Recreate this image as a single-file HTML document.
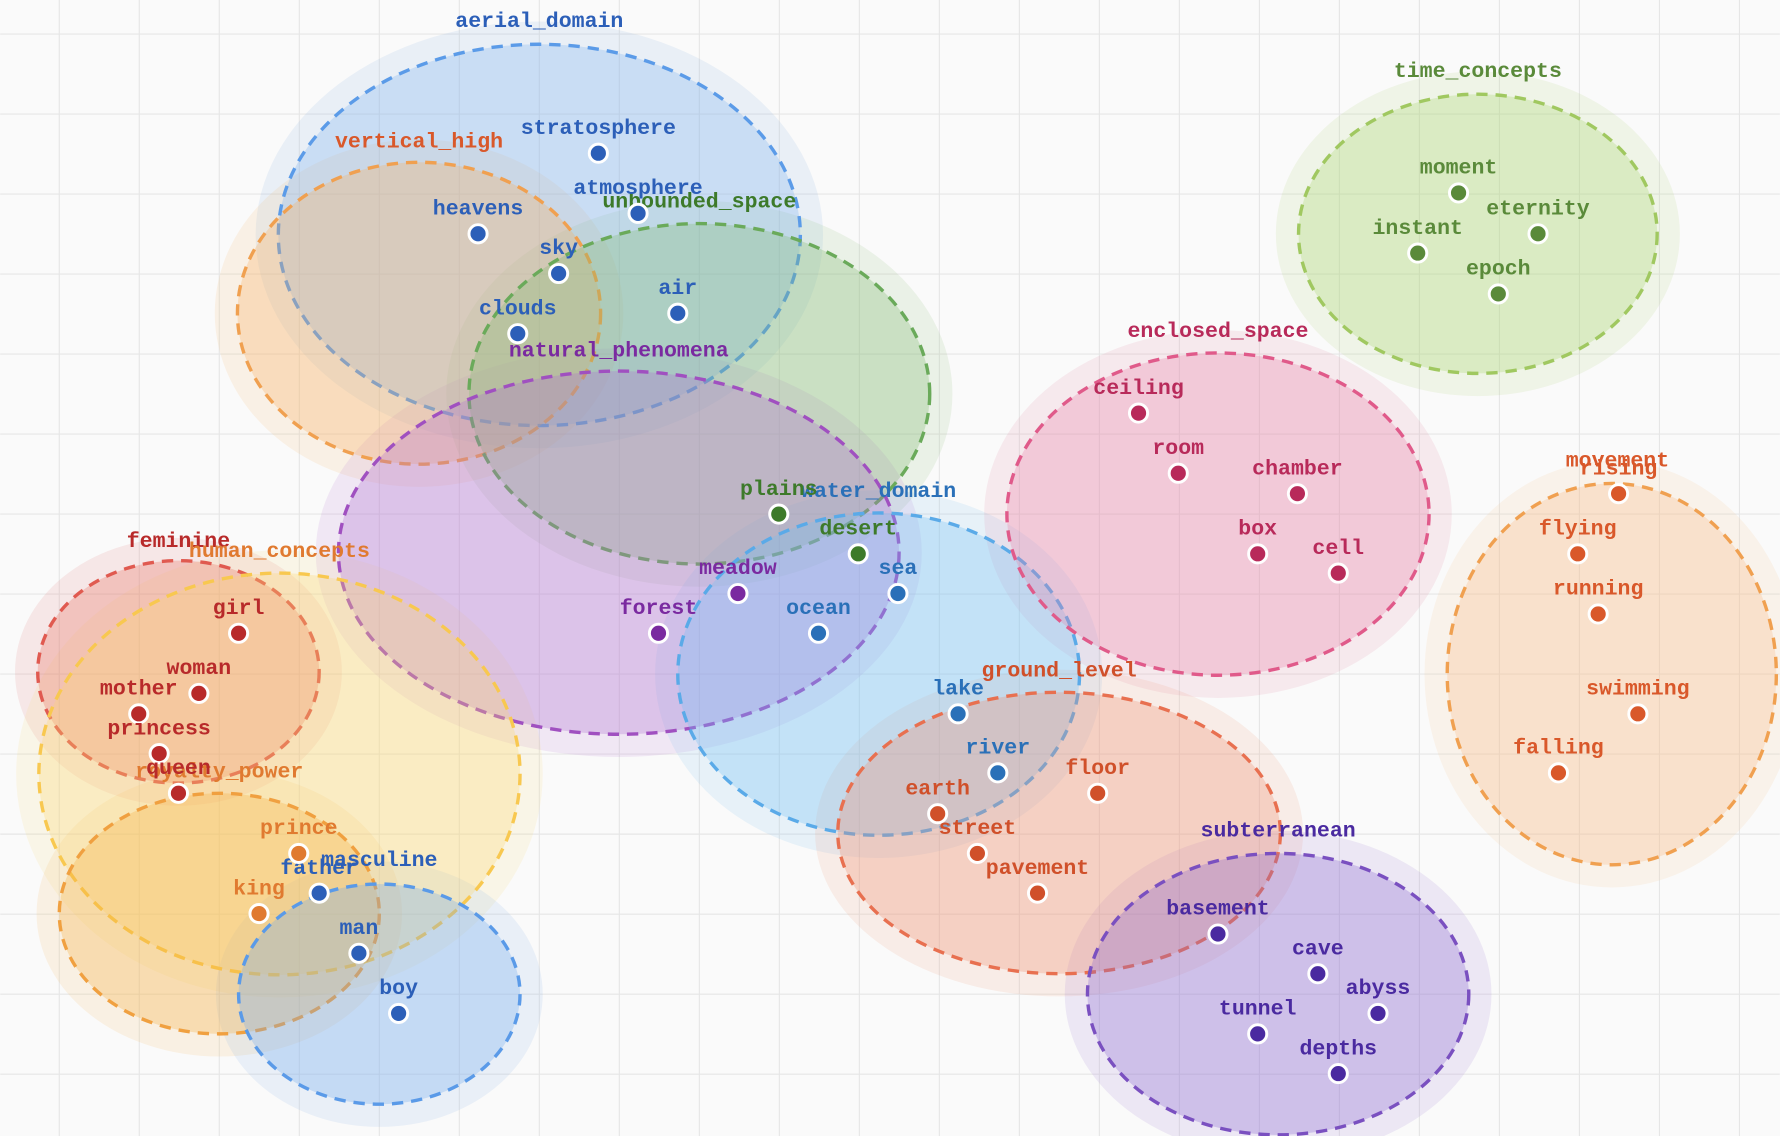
<!DOCTYPE html>
<html><head><meta charset="utf-8"><style>
html,body{margin:0;padding:0;background:#fafafa}
svg{display:block}
text{font-family:"Liberation Mono","DejaVu Sans Mono",monospace;font-weight:bold;font-size:19px;text-anchor:middle}
.d{stroke:#fff;stroke-width:2.6}
</style></head><body>
<svg width="1780" height="1136" viewBox="0 0 1568 1001" xmlns="http://www.w3.org/2000/svg">
<rect width="1568" height="1001" fill="#fafafa"/>
<g stroke="#e6e6e6" stroke-width="1">
<path d="M52 0V1001M122.5 0V1001M193 0V1001M263.5 0V1001M334 0V1001M404.5 0V1001M475 0V1001M545.5 0V1001M616 0V1001M686.5 0V1001M757 0V1001M827.5 0V1001M898 0V1001M968.5 0V1001M1039 0V1001M1109.5 0V1001M1180 0V1001M1250.5 0V1001M1321 0V1001M1391.5 0V1001M1462 0V1001M1532.5 0V1001"/>
<path d="M0 30H1568M0 100.5H1568M0 171H1568M0 241.5H1568M0 312H1568M0 382.5H1568M0 453H1568M0 523.5H1568M0 594H1568M0 664.5H1568M0 735H1568M0 805.5H1568M0 876H1568M0 946.5H1568"/>
</g>
<!-- halos -->
<g fill-opacity="0.13">
<ellipse cx="475" cy="207" rx="250" ry="188" fill="#7aa8e0"/>
<ellipse cx="369" cy="276" rx="180" ry="153" fill="#f5b060"/>
<ellipse cx="616" cy="347" rx="223" ry="170" fill="#80b870"/>
<ellipse cx="545" cy="487" rx="267" ry="180" fill="#b070d0"/>
<ellipse cx="774" cy="594" rx="197" ry="162" fill="#70b8f0"/>
<ellipse cx="1073" cy="453" rx="206" ry="162" fill="#e07a9a"/>
<ellipse cx="1302" cy="206" rx="178" ry="143" fill="#a8d070"/>
<ellipse cx="1420" cy="594" rx="165" ry="188" fill="#f5c080"/>
<ellipse cx="157" cy="592" rx="144" ry="118" fill="#e07070"/>
<ellipse cx="246" cy="682" rx="232" ry="197" fill="#fad870"/>
<ellipse cx="193" cy="805" rx="161" ry="126" fill="#f5b050"/>
<ellipse cx="334" cy="876" rx="144" ry="117" fill="#7aa8e8"/>
<ellipse cx="933" cy="734" rx="215" ry="144" fill="#f09070"/>
<ellipse cx="1126" cy="876" rx="188" ry="144" fill="#9070d0"/>
</g>
<g fill-opacity="0.3" stroke-width="3" stroke-dasharray="10 7">
<ellipse cx="475" cy="207" rx="230" ry="168" fill="#80b4ee" stroke="#5b9be8"/>
<ellipse cx="369" cy="276" rx="160" ry="133" fill="#f8b060" stroke="#f0a050"/>
<ellipse cx="616" cy="347" rx="203" ry="150" fill="#80b870" stroke="#6aaa5a"/>
<ellipse cx="545" cy="487" rx="247" ry="160" fill="#b070d0" stroke="#a050c0"/>
<ellipse cx="774" cy="594" rx="177" ry="142" fill="#70c0f5" stroke="#5aaae8"/>
<ellipse cx="1073" cy="453" rx="186" ry="142" fill="#e880a8" stroke="#e05a8a"/>
<ellipse cx="1302" cy="206" rx="158" ry="123" fill="#a8d870" stroke="#a0c860"/>
<ellipse cx="1420" cy="594" rx="145" ry="168" fill="#f8b888" stroke="#f0a050"/>
<ellipse cx="157" cy="592" rx="124" ry="98" fill="#e87060" stroke="#e05a50"/>
<ellipse cx="246" cy="682" rx="212" ry="177" fill="#fcd870" stroke="#f8c850"/>
<ellipse cx="193" cy="805" rx="141" ry="106" fill="#f5b040" stroke="#f0a040"/>
<ellipse cx="334" cy="876" rx="124" ry="97" fill="#70a8f0" stroke="#5a9ae8"/>
<ellipse cx="933" cy="734" rx="195" ry="124" fill="#f09070" stroke="#e87050"/>
<ellipse cx="1126" cy="876" rx="168" ry="124" fill="#8868d0" stroke="#7a50c0"/>
</g>
<!-- group labels -->
<text x="475" y="24" fill="#2c5fb8">aerial_domain</text>
<text x="369" y="130" fill="#d9582a">vertical_high</text>
<text x="616" y="183" fill="#3d7a2a">unbounded_space</text>
<text x="545" y="314" fill="#7a2aa0">natural_phenomena</text>
<text x="774" y="438" fill="#2a70b8">water_domain</text>
<text x="1073" y="297" fill="#b82a5a">enclosed_space</text>
<text x="1302" y="68" fill="#5a8a3a">time_concepts</text>
<text x="1425" y="411" fill="#d9582a">movement</text>
<text x="157" y="482" fill="#b82a2a">feminine</text>
<text x="246" y="491" fill="#e07a30">human_concepts</text>
<text x="193" y="685" fill="#e07a30">royalty_power</text>
<text x="334" y="763" fill="#2c5fb8">masculine</text>
<text x="933" y="596" fill="#d0502a">ground_level</text>
<text x="1126" y="737" fill="#4a2aa0">subterranean</text>
<!-- points -->
<g fill="#2c5fb8">
<circle class="d" cx="527" cy="135" r="8"/><text x="527" y="118">stratosphere</text>
<circle class="d" cx="562" cy="188" r="8"/><text x="562" y="171">atmosphere</text>
<circle class="d" cx="421" cy="206" r="8"/><text x="421" y="189">heavens</text>
<circle class="d" cx="492" cy="241" r="8"/><text x="492" y="224">sky</text>
<circle class="d" cx="597" cy="276" r="8"/><text x="597" y="259">air</text>
<circle class="d" cx="456" cy="294" r="8"/><text x="456" y="277">clouds</text>
<circle class="d" cx="281" cy="787" r="8"/><text x="281" y="770">father</text>
<circle class="d" cx="316" cy="840" r="8"/><text x="316" y="823">man</text>
<circle class="d" cx="351" cy="893" r="8"/><text x="351" y="876">boy</text>
</g>
<g fill="#3d7a2a">
<circle class="d" cx="686" cy="453" r="8"/><text x="686" y="436">plains</text>
<circle class="d" cx="756" cy="488" r="8"/><text x="756" y="471">desert</text>
</g>
<g fill="#7a2aa0">
<circle class="d" cx="650" cy="523" r="8"/><text x="650" y="506">meadow</text>
<circle class="d" cx="580" cy="558" r="8"/><text x="580" y="541">forest</text>
</g>
<g fill="#2a70b8">
<circle class="d" cx="791" cy="523" r="8"/><text x="791" y="506">sea</text>
<circle class="d" cx="721" cy="558" r="8"/><text x="721" y="541">ocean</text>
<circle class="d" cx="844" cy="629" r="8"/><text x="844" y="612">lake</text>
<circle class="d" cx="879" cy="681" r="8"/><text x="879" y="664">river</text>
</g>
<g fill="#b82a5a">
<circle class="d" cx="1003" cy="364" r="8"/><text x="1003" y="347">ceiling</text>
<circle class="d" cx="1038" cy="417" r="8"/><text x="1038" y="400">room</text>
<circle class="d" cx="1143" cy="435" r="8"/><text x="1143" y="418">chamber</text>
<circle class="d" cx="1108" cy="488" r="8"/><text x="1108" y="471">box</text>
<circle class="d" cx="1179" cy="505" r="8"/><text x="1179" y="488">cell</text>
</g>
<g fill="#5a8a3a">
<circle class="d" cx="1285" cy="170" r="8"/><text x="1285" y="153">moment</text>
<circle class="d" cx="1355" cy="206" r="8"/><text x="1355" y="189">eternity</text>
<circle class="d" cx="1249" cy="223" r="8"/><text x="1249" y="206">instant</text>
<circle class="d" cx="1320" cy="259" r="8"/><text x="1320" y="242">epoch</text>
</g>
<g fill="#d9582a">
<circle class="d" cx="1426" cy="435" r="8"/><text x="1426" y="418">rising</text>
<circle class="d" cx="1390" cy="488" r="8"/><text x="1390" y="471">flying</text>
<circle class="d" cx="1408" cy="541" r="8"/><text x="1408" y="524">running</text>
<circle class="d" cx="1443" cy="629" r="8"/><text x="1443" y="612">swimming</text>
<circle class="d" cx="1373" cy="681" r="8"/><text x="1373" y="664">falling</text>
</g>
<g fill="#b82a2a">
<circle class="d" cx="210" cy="558" r="8"/><text x="210" y="541">girl</text>
<circle class="d" cx="175" cy="611" r="8"/><text x="175" y="594">woman</text>
<circle class="d" cx="122" cy="629" r="8"/><text x="122" y="612">mother</text>
<circle class="d" cx="140" cy="664" r="8"/><text x="140" y="647">princess</text>
<circle class="d" cx="157" cy="699" r="8"/><text x="157" y="682">queen</text>
</g>
<g fill="#e07a30">
<circle class="d" cx="263" cy="752" r="8"/><text x="263" y="735">prince</text>
<circle class="d" cx="228" cy="805" r="8"/><text x="228" y="788">king</text>
</g>
<g fill="#d0502a">
<circle class="d" cx="826" cy="717" r="8"/><text x="826" y="700">earth</text>
<circle class="d" cx="861" cy="752" r="8"/><text x="861" y="735">street</text>
<circle class="d" cx="914" cy="787" r="8"/><text x="914" y="770">pavement</text>
<circle class="d" cx="967" cy="699" r="8"/><text x="967" y="682">floor</text>
</g>
<g fill="#4a2aa0">
<circle class="d" cx="1073" cy="823" r="8"/><text x="1073" y="806">basement</text>
<circle class="d" cx="1161" cy="858" r="8"/><text x="1161" y="841">cave</text>
<circle class="d" cx="1214" cy="893" r="8"/><text x="1214" y="876">abyss</text>
<circle class="d" cx="1108" cy="911" r="8"/><text x="1108" y="894">tunnel</text>
<circle class="d" cx="1179" cy="946" r="8"/><text x="1179" y="929">depths</text>
</g>
</svg>
</body></html>
